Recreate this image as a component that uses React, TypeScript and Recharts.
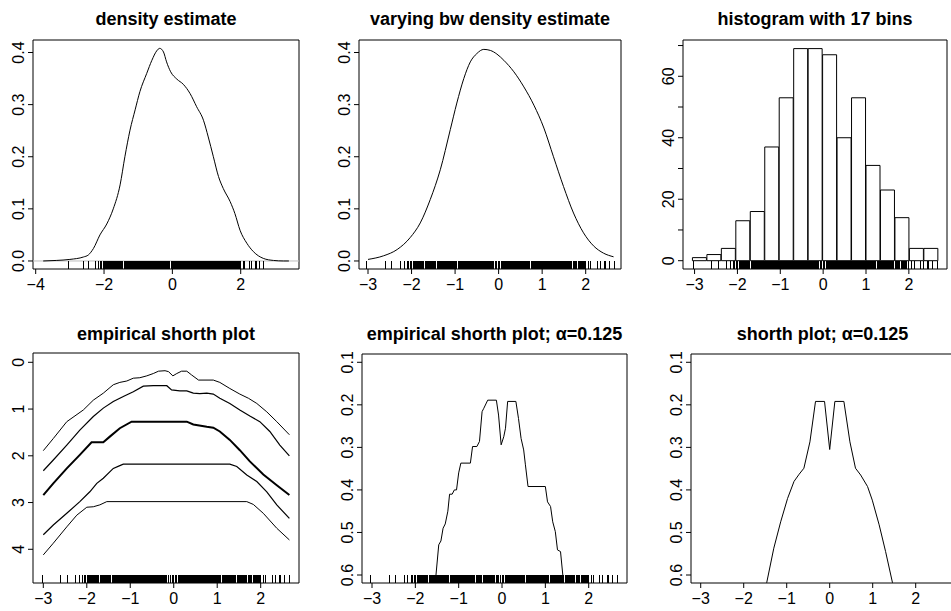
import React from "react";
import { ComposedChart, Line, Bar, Scatter, XAxis, YAxis, ReferenceArea, ReferenceLine } from "recharts";

const FONT = '"Liberation Sans", Arial, Helvetica, sans-serif';

const rugX = [
  -3.03, -2.6, -2.45, -2.25, -2.17, -2.1, -2.06, -2.02, -1.99, -1.96, -1.94, -1.92,
  -1.9, -1.885, -1.87, -1.85, -1.835, -1.82, -1.8, -1.785, -1.77, -1.75, -1.735, -1.72, -1.68, -1.665,
  -1.65, -1.63, -1.615, -1.6, -1.58, -1.565, -1.55, -1.53, -1.515, -1.5, -1.48, -1.465, -1.45, -1.41,
  -1.395, -1.38, -1.365,
  -1.35, -1.335, -1.32, -1.305, -1.29, -1.275, -1.26, -1.245, -1.23, -1.2, -1.185, -1.17, -1.155, -1.14,
  -1.125, -1.11, -1.095, -1.08, -1.065, -1.05, -1.035, -1.02, -1.005, -0.99, -0.975, -0.96, -0.93, -0.915,
  -0.9, -0.885, -0.87, -0.855, -0.84, -0.825, -0.81, -0.795, -0.78, -0.765, -0.75, -0.735, -0.72, -0.705,
  -0.69, -0.675, -0.66, -0.645, -0.63, -0.6, -0.585, -0.57, -0.555, -0.54, -0.525, -0.51, -0.495, -0.48,
  -0.465, -0.435, -0.42, -0.405, -0.39, -0.375, -0.36, -0.345, -0.33, -0.315, -0.3, -0.285, -0.27, -0.255,
  -0.24, -0.225, -0.21, -0.195, -0.18, -0.165,
  -0.13, -0.11, -0.07, -0.04, 0.0, 0.03, 0.07, 0.1,
  0.12, 0.135, 0.15, 0.165, 0.18, 0.195, 0.21, 0.225, 0.24, 0.255, 0.27, 0.285, 0.315, 0.33, 0.345, 0.36,
  0.375, 0.39, 0.405, 0.42, 0.435, 0.45, 0.465, 0.48, 0.495, 0.51, 0.525, 0.555, 0.57, 0.585, 0.6, 0.615,
  0.63, 0.645, 0.66, 0.675, 0.69, 0.705, 0.72, 0.75, 0.765, 0.78, 0.795, 0.81, 0.825, 0.84, 0.855, 0.87,
  0.885, 0.9, 0.915, 0.93, 0.945, 0.96, 0.975, 0.99, 1.005, 1.02, 1.035, 1.05, 1.065, 1.08, 1.11, 1.125,
  1.14, 1.155, 1.17, 1.185, 1.2, 1.215, 1.23, 1.26, 1.275, 1.29, 1.305, 1.32, 1.335, 1.35, 1.365, 1.38,
  1.395, 1.41, 1.425, 1.455, 1.47, 1.49, 1.51, 1.53, 1.55, 1.575, 1.6, 1.625, 1.65, 1.68, 1.71,
  1.73, 1.75, 1.77, 1.79, 1.83, 1.85, 1.87, 1.89, 1.91, 1.93, 1.95, 1.98, 2.0,
  2.07, 2.12, 2.26, 2.33, 2.43, 2.46, 2.55, 2.66,
];

const densityPts = [
  [-3.78, 0], [-3.4, 0.001], [-3.0, 0.003], [-2.6, 0.0077], [-2.46, 0.0115], [-2.31, 0.024], [-2.12, 0.05],
  [-1.92, 0.071], [-1.73, 0.1], [-1.53, 0.146], [-1.39, 0.2], [-1.24, 0.251], [-1.09, 0.29], [-0.95, 0.325],
  [-0.75, 0.36], [-0.6, 0.385], [-0.46, 0.403], [-0.37, 0.408], [-0.26, 0.401], [-0.17, 0.382], [-0.05, 0.363],
  [0.13, 0.349], [0.32, 0.339], [0.52, 0.321], [0.71, 0.296], [0.91, 0.27], [1.05, 0.238], [1.2, 0.2],
  [1.35, 0.162], [1.49, 0.139], [1.69, 0.114], [1.83, 0.091], [1.98, 0.059], [2.18, 0.034], [2.37, 0.018],
  [2.66, 0.005], [2.96, 0.001], [3.25, 0], [3.41, 0],
];

const varBwPts = [
  [-3.0, 0.003], [-2.64, 0.01], [-2.33, 0.022], [-2.03, 0.045], [-1.8, 0.073], [-1.57, 0.118], [-1.34, 0.175],
  [-1.11, 0.252], [-0.96, 0.303], [-0.8, 0.35], [-0.65, 0.382], [-0.5, 0.398], [-0.34, 0.406], [-0.19, 0.404],
  [-0.04, 0.397], [0.12, 0.385], [0.35, 0.363], [0.58, 0.334], [0.81, 0.299], [1.04, 0.255], [1.26, 0.2],
  [1.49, 0.143], [1.72, 0.092], [1.95, 0.054], [2.18, 0.029], [2.41, 0.015], [2.64, 0.008],
];

const histBreaks = [
  -3.05, -2.7125, -2.375, -2.0375, -1.7, -1.3625, -1.025, -0.6875, -0.35, -0.0125, 0.325, 0.6625, 1.0,
  1.3375, 1.675, 2.0125, 2.35, 2.6875,
];
const histCounts = [1, 2, 4, 13, 16, 37, 53, 69, 69, 67, 40, 53, 31, 23, 14, 4, 4];
const histYTicks = [0, 10, 20, 30, 40, 50, 60, 70];
const histYLabels = [0, 20, 40, 60];

// empirical shorth lengths at five coverage levels (top to bottom)
const shorthA = [
  [-3.0, 1.89], [-2.77, 1.63], [-2.46, 1.27], [-2.08, 1.02], [-1.85, 0.81], [-1.62, 0.66], [-1.39, 0.48],
  [-1.24, 0.43], [-1.08, 0.4], [-0.93, 0.34], [-0.78, 0.33], [-0.62, 0.29], [-0.47, 0.24], [-0.35, 0.19],
  [-0.2, 0.18], [-0.12, 0.2], [-0.02, 0.29], [0.07, 0.24], [0.18, 0.19], [0.3, 0.19], [0.41, 0.27],
  [0.57, 0.38], [0.91, 0.38], [1.06, 0.43], [1.29, 0.56], [1.52, 0.68], [1.72, 0.77], [1.91, 0.88],
  [2.14, 1.06], [2.37, 1.27], [2.66, 1.55],
];
const shorthB = [
  [-3.0, 2.32], [-2.77, 2.09], [-2.46, 1.77], [-2.16, 1.45], [-1.85, 1.16], [-1.62, 0.98], [-1.39, 0.84],
  [-1.16, 0.73], [-0.93, 0.63], [-0.7, 0.51], [-0.47, 0.5], [-0.16, 0.5], [-0.05, 0.59], [0.14, 0.61],
  [0.3, 0.61], [0.45, 0.66], [0.6, 0.67], [0.76, 0.66], [0.91, 0.68], [1.06, 0.77], [1.29, 0.88],
  [1.52, 1.02], [1.75, 1.15], [1.98, 1.27], [2.21, 1.48], [2.44, 1.77], [2.66, 2.0],
];
const shorthC = [
  [-3.0, 2.84], [-2.77, 2.59], [-2.46, 2.27], [-2.16, 1.98], [-1.89, 1.71], [-1.62, 1.71], [-1.47, 1.59],
  [-1.24, 1.41], [-0.97, 1.27], [-0.78, 1.27], [0.3, 1.27], [0.45, 1.33], [0.76, 1.38], [0.91, 1.4],
  [1.06, 1.48], [1.29, 1.66], [1.52, 1.88], [1.75, 2.12], [2.06, 2.4], [2.37, 2.63], [2.66, 2.84],
];
const shorthD = [
  [-3.0, 3.69], [-2.77, 3.48], [-2.46, 3.23], [-2.16, 2.98], [-1.93, 2.77], [-1.77, 2.59], [-1.62, 2.48],
  [-1.39, 2.27], [-1.24, 2.21], [-1.16, 2.18], [1.29, 2.18], [1.45, 2.23], [1.68, 2.41], [1.91, 2.55],
  [2.14, 2.77], [2.37, 3.05], [2.66, 3.34],
];
const shorthE = [
  [-3.0, 4.12], [-2.77, 3.87], [-2.46, 3.52], [-2.23, 3.27], [-2.0, 3.1], [-1.85, 3.09], [-1.7, 3.05],
  [-1.54, 2.98], [1.68, 2.98], [1.83, 3.04], [2.06, 3.23], [2.37, 3.55], [2.66, 3.8],
];

const empShorthPts = [
  [-1.6, 0.66], [-1.54, 0.618], [-1.46, 0.529], [-1.41, 0.52], [-1.36, 0.49], [-1.31, 0.48], [-1.25, 0.45],
  [-1.21, 0.41], [-1.15, 0.41], [-1.1, 0.4], [-1.05, 0.4], [-1.0, 0.36], [-0.95, 0.337], [-0.73, 0.337],
  [-0.68, 0.298], [-0.58, 0.298], [-0.52, 0.286], [-0.46, 0.216], [-0.42, 0.208], [-0.33, 0.189],
  [-0.13, 0.189], [-0.08, 0.224], [-0.02, 0.294], [0.04, 0.275], [0.08, 0.255], [0.13, 0.192], [0.32, 0.192],
  [0.38, 0.232], [0.44, 0.279], [0.5, 0.306], [0.54, 0.341], [0.6, 0.392], [1.0, 0.392], [1.05, 0.428],
  [1.12, 0.439], [1.17, 0.475], [1.23, 0.498], [1.28, 0.541], [1.35, 0.545], [1.42, 0.618], [1.47, 0.66],
];

const shorthPts = [
  [-1.5, 0.64], [-1.465, 0.618], [-1.3, 0.537], [-1.14, 0.475], [-0.98, 0.42], [-0.83, 0.38], [-0.71, 0.363],
  [-0.6, 0.349], [-0.46, 0.287], [-0.33, 0.192], [-0.12, 0.192], [0.0, 0.305], [0.12, 0.192], [0.33, 0.192],
  [0.47, 0.287], [0.6, 0.349], [0.72, 0.365], [0.88, 0.392], [0.99, 0.424], [1.15, 0.482], [1.3, 0.545],
  [1.46, 0.618], [1.5, 0.64],
];

const ticksM3to2 = [-3, -2, -1, 0, 1, 2];

const toPts = (a: number[][]) => a.map(([x, y]) => ({ x, y }));
const fmt = (v: number, d: number) => (v < 0 ? "\u2212" : "") + Math.abs(v).toFixed(d);

const PAD_L = 40;
const PAD_T = 10;
const PAD_R = 10;
const PAD_B = 40;

const XTick = (props: any) => {
  const { x, y, payload } = props;
  return (
    <text x={x} y={y + 14} textAnchor="middle" fontSize={16} fontFamily={FONT} fill="#000">
      {fmt(payload.value, 0)}
    </text>
  );
};

const YTick = (props: any) => {
  const { x, y, payload, digits, labels } = props;
  if (labels && !labels.includes(payload.value)) return null;
  const tx = x - 1.5;
  return (
    <text x={tx} y={y} transform={`rotate(-90, ${tx}, ${y})`} textAnchor="middle" fontSize={16} fontFamily={FONT} fill="#000">
      {fmt(payload.value, digits)}
    </text>
  );
};

const RugTick = (props: any) => {
  const { cx, cy } = props;
  return <line x1={cx} x2={cx} y1={cy} y2={cy - 8} stroke="#000" strokeWidth={1} shapeRendering="crispEdges" />;
};

type PanelProps = {
  box: number[];
  xDomain: number[];
  yDomain: number[];
  xTicks: number[];
  yTicks: number[];
  yLabels?: number[];
  yDigits: number;
  reversed?: boolean;
  rug?: boolean;
  data?: any[];
  children?: React.ReactNode;
};

function Panel({ box, xDomain, yDomain, xTicks, yTicks, yLabels, yDigits, reversed, rug, data, children }: PanelProps) {
  const [l, t, r, b] = box;
  const w = r - l;
  const h = b - t;
  const yBottom = reversed ? yDomain[1] : yDomain[0];
  return (
    <div style={{ position: "absolute", left: l - PAD_L, top: t - PAD_T }}>
      <ComposedChart
        width={w + PAD_L + PAD_R}
        height={h + PAD_T + PAD_B}
        margin={{ top: PAD_T, right: PAD_R, bottom: 0, left: 0 }}
        data={data}
        barCategoryGap={0}
        barGap={0}
      >
        {data && (
          <XAxis
            xAxisId="cat"
            type="category"
            dataKey="bin"
            hide
            height={0}
            padding={{
              left: ((histBreaks[0] - xDomain[0]) / (xDomain[1] - xDomain[0])) * w,
              right: ((xDomain[1] - histBreaks[histBreaks.length - 1]) / (xDomain[1] - xDomain[0])) * w,
            }}
          />
        )}
        <XAxis
          xAxisId="num"
          type="number"
          dataKey="x"
          domain={xDomain}
          ticks={xTicks}
          interval={0}
          allowDataOverflow
          axisLine={false}
          tickLine={{ stroke: "#000" }}
          tickSize={5}
          height={PAD_B}
          tick={<XTick />}
        />
        <YAxis
          type="number"
          dataKey="y"
          domain={yDomain}
          ticks={yTicks}
          interval={0}
          allowDataOverflow
          reversed={reversed}
          width={PAD_L}
          axisLine={false}
          tickLine={{ stroke: "#000" }}
          tickSize={5}
          tick={<YTick digits={yDigits} labels={yLabels} />}
        />
        {children}
        {rug && (
          <Scatter
            xAxisId="num"
            data={rugX.map((x) => ({ x, y: yBottom }))}
            dataKey="y"
            shape={RugTick}
            isAnimationActive={false}
          />
        )}
        <ReferenceArea
          xAxisId="num"
          x1={xDomain[0]}
          x2={xDomain[1]}
          y1={yDomain[0]}
          y2={yDomain[1]}
          fill="none"
          stroke="#000"
          strokeWidth={1}
          ifOverflow="visible"
        />
      </ComposedChart>
    </div>
  );
}

const curve = (pts: number[][], width = 1, type: any = "linear") => (
  <Line
    xAxisId="num"
    data={toPts(pts)}
    dataKey="y"
    type={type}
    stroke="#000"
    strokeWidth={width}
    dot={false}
    activeDot={false}
    isAnimationActive={false}
  />
);

const titles = [
  { text: "density estimate", x: 166, y: 24.5 },
  { text: "varying bw density estimate", x: 490, y: 24.5 },
  { text: "histogram with 17 bins", x: 815, y: 24.5 },
  { text: "empirical shorth plot", x: 166, y: 339.5 },
  { text: "empirical shorth plot; \u03b1=0.125", x: 494.5, y: 339.5 },
  { text: "shorth plot; \u03b1=0.125", x: 822.5, y: 339.5 },
];

export default function App() {
  const histData = histCounts.map((c, i) => ({ bin: String(i), y: c }));
  return (
    <div style={{ position: "absolute", left: 0, top: 0, width: 951, height: 611, overflow: "hidden", background: "#fff" }}>
      <Panel box={[33, 40, 299, 269]} xDomain={[-4.079, 3.706]} yDomain={[-0.0154, 0.424]} xTicks={[-4, -2, 0, 2]} yTicks={[0, 0.1, 0.2, 0.3, 0.4]} yDigits={1} rug>
        <ReferenceLine xAxisId="num" y={0} stroke="#bebebe" strokeWidth={1} />
        {curve(densityPts, 1, "monotone")}
      </Panel>
      <Panel box={[359, 40, 621, 269]} xDomain={[-3.207, 2.811]} yDomain={[-0.0154, 0.424]} xTicks={ticksM3to2} yTicks={[0, 0.1, 0.2, 0.3, 0.4]} yDigits={1} rug>
        {curve(varBwPts, 1, "monotone")}
      </Panel>
      <Panel box={[683, 40, 947, 269]} xDomain={[-3.27, 2.89]} yDomain={[-2.7, 71.8]} xTicks={ticksM3to2} yTicks={histYTicks} yLabels={histYLabels} yDigits={0} rug data={histData}>
        <Bar xAxisId="cat" dataKey="y" fill="#fff" stroke="#000" strokeWidth={1} isAnimationActive={false} />
      </Panel>
      <Panel box={[33, 353, 299, 583]} xDomain={[-3.237, 2.881]} yDomain={[-0.199, 4.721]} xTicks={ticksM3to2} yTicks={[0, 1, 2, 3, 4]} yDigits={0} reversed rug>
        {curve(shorthA)}
        {curve(shorthB, 1.2)}
        {curve(shorthC, 2)}
        {curve(shorthD, 1.2)}
        {curve(shorthE)}
      </Panel>
      <Panel box={[362, 354, 627, 583]} xDomain={[-3.231, 2.884]} yDomain={[0.0805, 0.6188]} xTicks={ticksM3to2} yTicks={[0.1, 0.2, 0.3, 0.4, 0.5, 0.6]} yDigits={1} reversed rug>
        {curve(empShorthPts)}
      </Panel>
      <Panel box={[691, 354, 954, 583]} xDomain={[-3.226, 2.891]} yDomain={[0.0805, 0.6188]} xTicks={ticksM3to2} yTicks={[0.1, 0.2, 0.3, 0.4, 0.5, 0.6]} yDigits={1} reversed>
        {curve(shorthPts)}
      </Panel>
      <svg width={951} height={611} style={{ position: "absolute", left: 0, top: 0, pointerEvents: "none" }}>
        {titles.map((t) => (
          <text key={t.text} x={t.x} y={t.y} textAnchor="middle" fontSize={18} fontWeight="bold" fontFamily={FONT} fill="#000">
            {t.text}
          </text>
        ))}
      </svg>
    </div>
  );
}
